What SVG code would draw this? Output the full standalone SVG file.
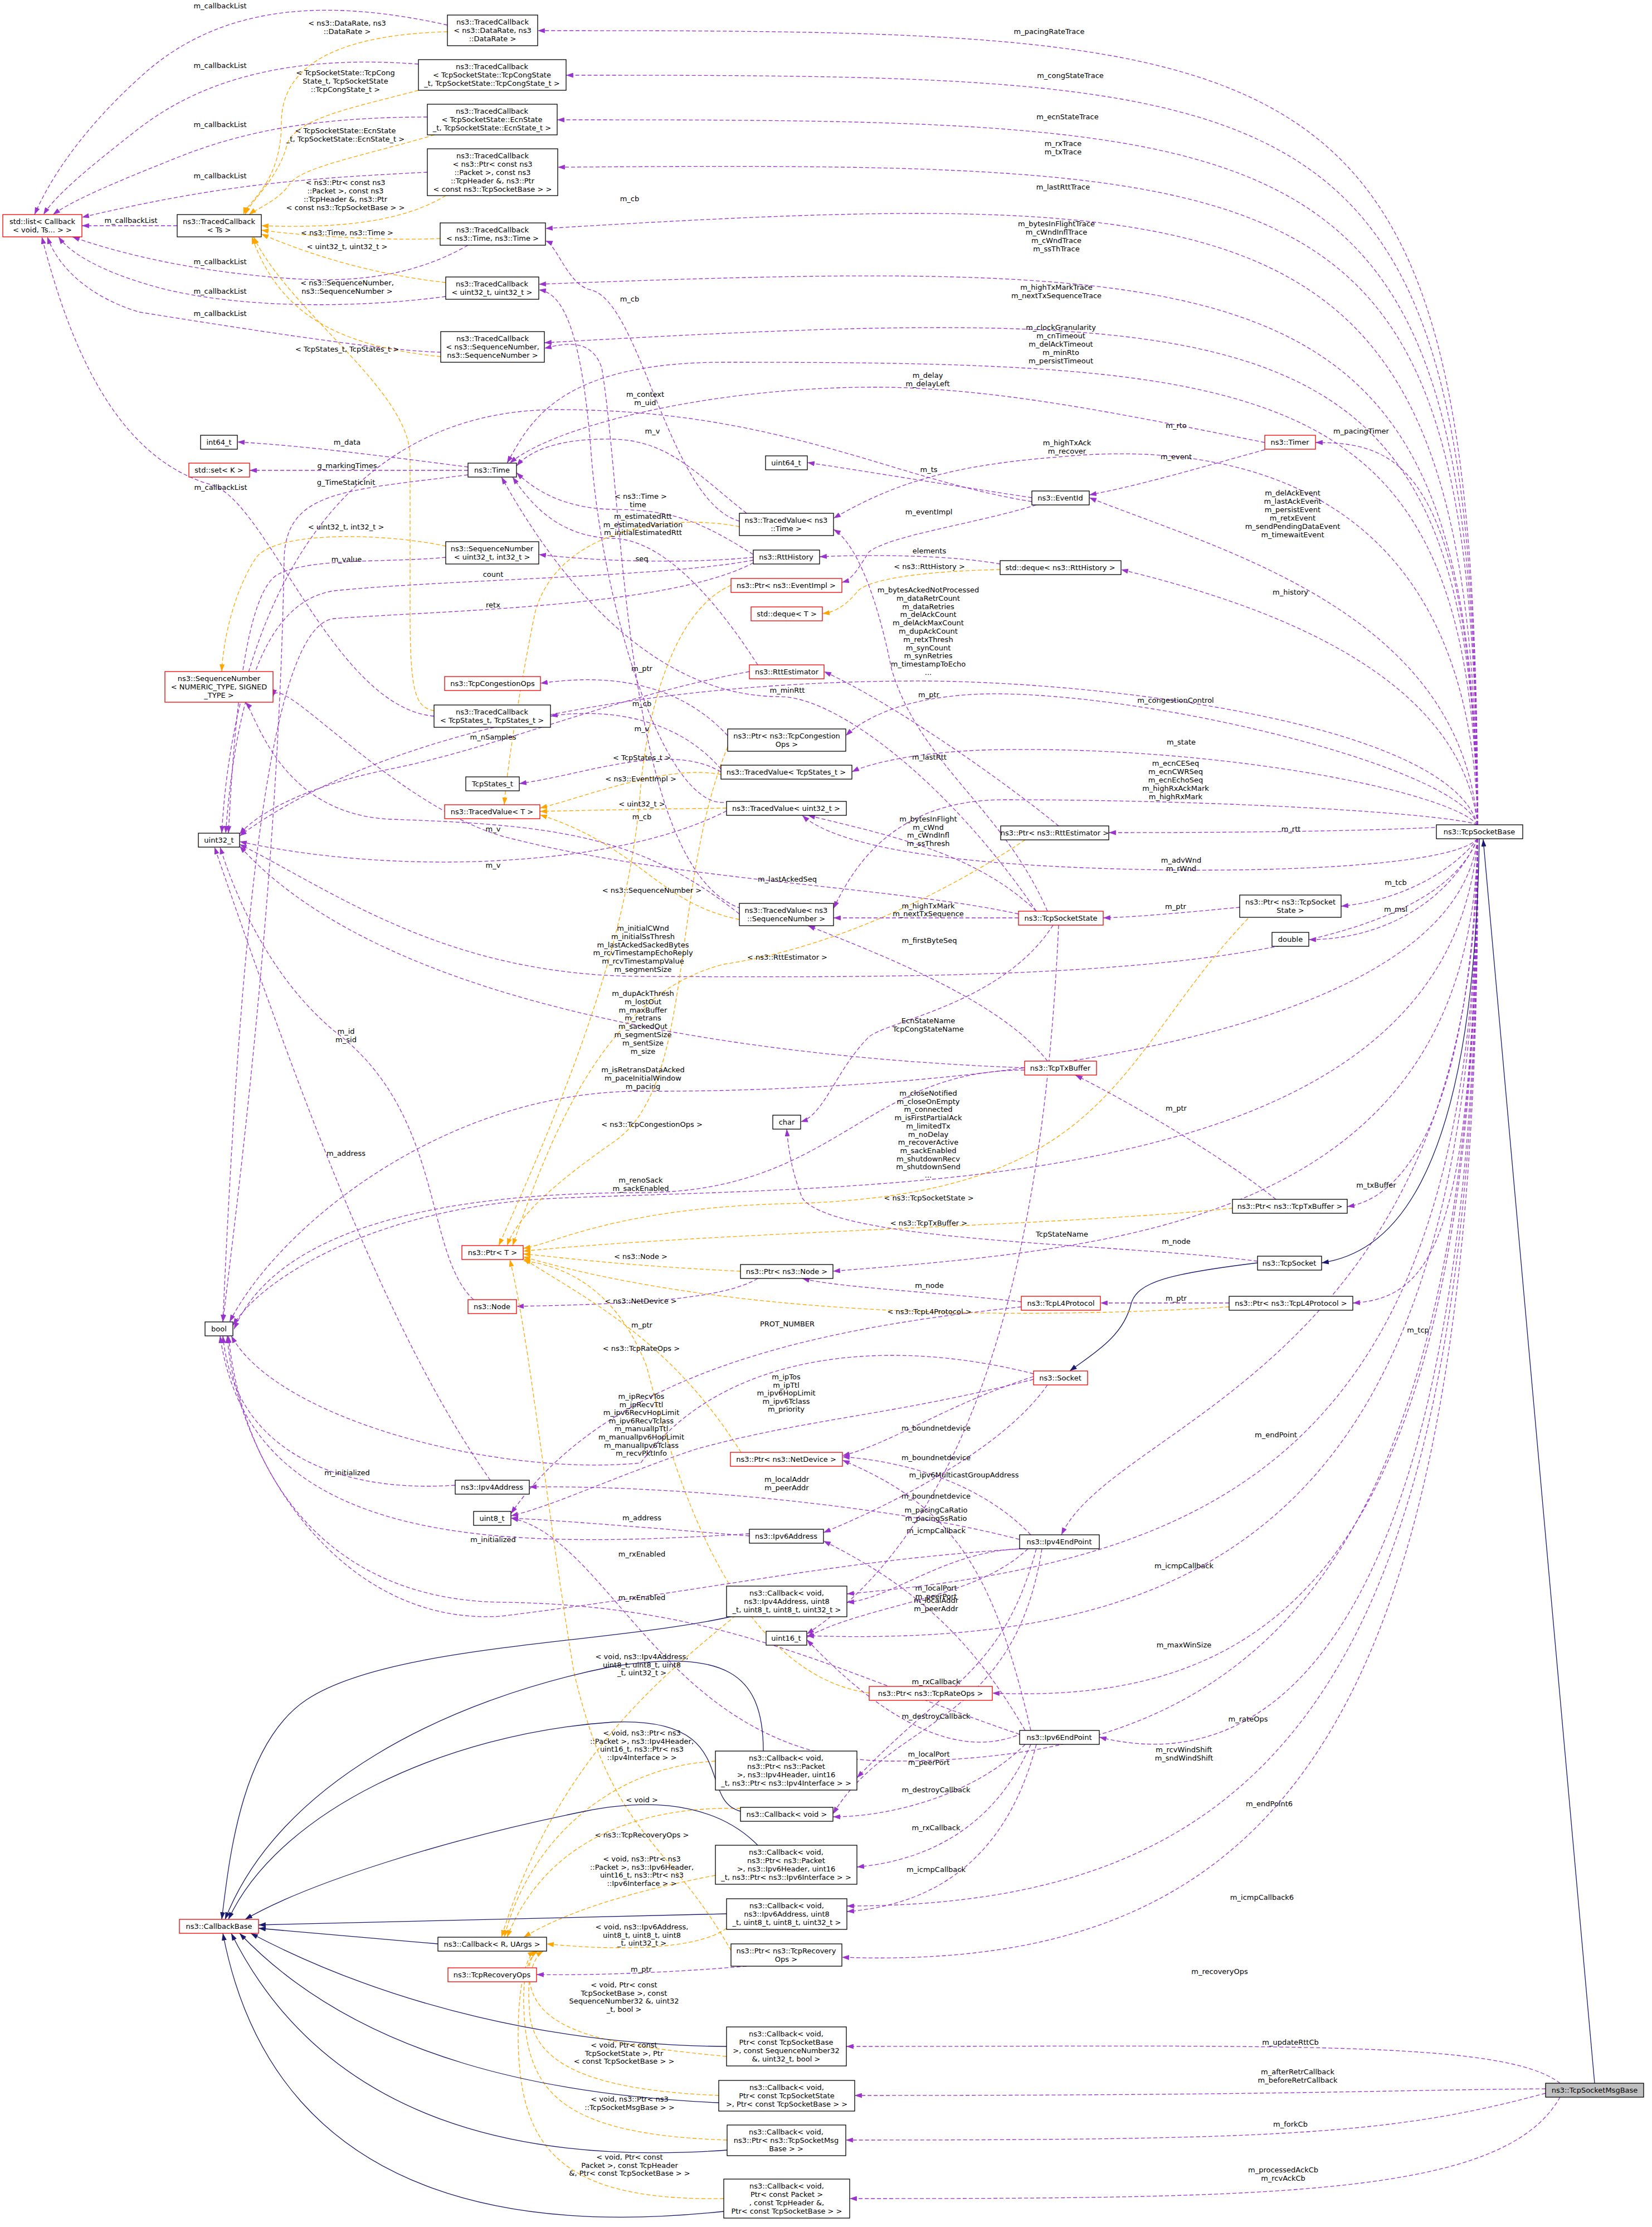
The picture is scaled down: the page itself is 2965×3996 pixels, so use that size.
<svg xmlns="http://www.w3.org/2000/svg" width="2965" height="3996" viewBox="0 0 2965 3996">
<style>
text{font-family:"DejaVu Sans","Liberation Sans",sans-serif;font-size:13px;fill:#000}
.nd text{text-anchor:middle}
.nd rect{fill:#fff;stroke:#000;stroke-width:1.3}
.nd.r rect{stroke:#e00}
.nd.g rect{fill:#bfbfbf}
.e path{fill:none;stroke-width:1.3}
.u{stroke:#9a32cd;stroke-dasharray:7,4}
.o{stroke:#ffa500;stroke-dasharray:7,4}
.i{stroke:#191970}
.l{text-anchor:middle}
</style>
<defs>
<marker id="pa" viewBox="0 0 10 7" refX="10" refY="3.5" markerWidth="13" markerHeight="9" markerUnits="userSpaceOnUse" orient="auto"><path d="M0,0 L10,3.5 L0,7z" fill="#9a32cd"/></marker>
<marker id="oa" viewBox="0 0 10 7" refX="10" refY="3.5" markerWidth="13" markerHeight="9" markerUnits="userSpaceOnUse" orient="auto"><path d="M0,0 L10,3.5 L0,7z" fill="#ffa500"/></marker>
<marker id="na" viewBox="0 0 10 7" refX="10" refY="3.5" markerWidth="13" markerHeight="9" markerUnits="userSpaceOnUse" orient="auto"><path d="M0,0 L10,3.5 L0,7z" fill="#191970"/></marker>
</defs>
<rect width="2965" height="3996" fill="#fff"/>
<g id="edges" class="e">
<path class="u" marker-end="url(#pa)" d="M2652,1480 C2652,60 2400,55 965,55"/>
<path class="u" marker-end="url(#pa)" d="M2652,1480 C2650,140 2400,135 1016,135"/>
<path class="u" marker-end="url(#pa)" d="M2652,1480 C2648,220 2400,215 1000,215"/>
<path class="u" marker-end="url(#pa)" d="M2652,1480 C2646,300 2400,290 1001,300"/>
<path class="u" marker-end="url(#pa)" d="M2652,1480 C2644,360 2300,330 979,410"/>
<path class="u" marker-end="url(#pa)" d="M2652,1480 C2642,480 2300,460 967,510"/>
<path class="u" marker-end="url(#pa)" d="M2652,1480 C2640,560 2300,540 977,615"/>
<path class="u" marker-end="url(#pa)" d="M2652,1480 C2640,680 2300,650 1300,650 C1000,650 950,760 910,831"/>
<path class="u" marker-end="url(#pa)" d="M2652,1480 C2640,820 2500,795 2361,794"/>
<path class="u" marker-end="url(#pa)" d="M2652,1480 C2640,860 2200,790 1900,820 C1700,835 1600,870 1496,930"/>
<path class="u" marker-end="url(#pa)" d="M2652,1480 C2620,1100 2200,990 1955,893"/>
<path class="u" marker-end="url(#pa)" d="M2652,1480 C2620,1200 2250,1080 2012,1022"/>
<path class="u" marker-end="url(#pa)" d="M2652,1480 C2620,1380 2100,1250 1800,1245 C1650,1243 1560,1280 1518,1320"/>
<path class="u" marker-end="url(#pa)" d="M2652,1480 C2600,1420 2200,1340 1800,1345 C1650,1347 1560,1370 1529,1385"/>
<path class="u" marker-end="url(#pa)" d="M2652,1480 C2600,1460 2200,1435 1800,1435 C1600,1436 1530,1560 1496,1630"/>
<path class="u" marker-end="url(#pa)" d="M2652,1480 C2500,1492 2200,1494 1990,1494"/>
<path class="u" marker-end="url(#pa)" d="M2652,1480 C2600,1300 2000,1225 1666,1222 C1200,1220 700,1300 430,1500"/>
<path class="u" marker-end="url(#pa)" d="M2652,1505 C2600,1560 2200,1570 1900,1555 C1600,1540 1480,1500 1440,1463"/>
<path class="u" marker-end="url(#pa)" d="M2652,1505 C2610,1560 2520,1615 2407,1626"/>
<path class="u" marker-end="url(#pa)" d="M2652,1505 C2600,1620 2480,1686 2349,1686"/>
<path class="u" marker-end="url(#pa)" d="M2652,1505 C2550,1760 1800,1755 1150,1752 C800,1750 600,1600 430,1515"/>
<path class="u" marker-end="url(#pa)" d="M2652,1505 C2600,1900 1600,1960 1154,1958 C800,1956 500,2200 412,2372"/>
<path class="u" marker-end="url(#pa)" d="M2652,1505 C2600,2150 1600,2125 1000,2150 C700,2163 480,2280 418,2378"/>
<path class="u" marker-end="url(#pa)" d="M2652,1505 C2640,2000 2520,2150 2418,2165"/>
<path class="u" marker-end="url(#pa)" d="M2652,1505 C2640,2200 2000,2240 1495,2281"/>
<path class="u" marker-end="url(#pa)" d="M2652,1505 C2645,2200 2580,2330 2428,2338"/>
<path class="u" marker-end="url(#pa)" d="M2652,1505 C2650,2450 2000,2550 1905,2754"/>
<path class="u" marker-end="url(#pa)" d="M2652,1505 C2652,2600 2200,2800 1520,2860"/>
<path class="u" marker-end="url(#pa)" d="M2652,1505 C2652,2700 2200,2960 1448,2935"/>
<path class="u" marker-end="url(#pa)" d="M2652,1505 C2655,2800 2300,3060 1781,3038"/>
<path class="u" marker-end="url(#pa)" d="M2652,1505 C2655,2900 2200,3160 1600,3160 C1200,3160 1100,2760 917,2724"/>
<path class="u" marker-end="url(#pa)" d="M2652,1505 C2658,2900 2300,3200 1973,3117"/>
<path class="u" marker-end="url(#pa)" d="M2652,1505 C2660,3000 2300,3420 1520,3420"/>
<path class="u" marker-end="url(#pa)" d="M2652,1505 C2662,3100 2300,3540 1511,3512"/>
<path class="i" marker-end="url(#na)" d="M2862,3738 L2662,1506"/>
<path class="i" marker-end="url(#na)" d="M2655,1505 C2645,2150 2480,2250 2372,2266"/>
<path class="i" marker-end="url(#na)" d="M2257,2266 C2100,2285 2040,2300 2030,2340 C2015,2400 1960,2430 1920,2460"/>
<path class="u" marker-end="url(#pa)" d="M2800,3738 C2700,3660 2300,3672 1519,3672"/>
<path class="u" marker-end="url(#pa)" d="M2774,3748 C2500,3750 2300,3760 1534,3760"/>
<path class="u" marker-end="url(#pa)" d="M2774,3756 C2500,3830 2300,3840 1518,3840"/>
<path class="u" marker-end="url(#pa)" d="M2800,3763 C2700,3940 2300,3945 1525,3945"/>
<path class="u" marker-end="url(#pa)" d="M803,45 C600,0 400,0 250,140 C150,230 90,320 62,385"/>
<path class="u" marker-end="url(#pa)" d="M751,115 C550,100 380,130 250,230 C160,300 100,350 78,385"/>
<path class="u" marker-end="url(#pa)" d="M767,210 C550,210 420,240 300,290 C200,330 130,360 95,385"/>
<path class="u" marker-end="url(#pa)" d="M767,309 C550,320 400,330 147,390"/>
<path class="u" marker-end="url(#pa)" d="M318,405 L147,405"/>
<path class="u" marker-end="url(#pa)" d="M840,440 C700,520 550,505 420,490 C300,475 200,450 130,425"/>
<path class="u" marker-end="url(#pa)" d="M800,532 C650,552 450,555 300,520 C200,495 130,460 105,425"/>
<path class="u" marker-end="url(#pa)" d="M791,632 C700,630 500,600 250,560 C150,530 100,470 85,425"/>
<path class="u" marker-end="url(#pa)" d="M779,1285 C600,1270 480,900 380,870 C200,820 120,600 75,425"/>
<path class="o" marker-end="url(#oa)" d="M803,57 C620,62 505,110 505,220 C505,330 445,360 437,385"/>
<path class="o" marker-end="url(#oa)" d="M751,162 C650,190 530,210 515,260 C500,320 450,360 440,385"/>
<path class="o" marker-end="url(#oa)" d="M780,242 C650,280 540,300 520,330 C500,360 460,375 447,385"/>
<path class="o" marker-end="url(#oa)" d="M800,351 C720,400 600,410 469,405"/>
<path class="o" marker-end="url(#oa)" d="M790,428 C700,432 560,425 469,413"/>
<path class="o" marker-end="url(#oa)" d="M800,507 C650,490 540,450 469,420"/>
<path class="o" marker-end="url(#oa)" d="M791,640 C600,620 500,560 452,425"/>
<path class="o" marker-end="url(#oa)" d="M779,1275 C745,1270 736,1240 736,1100 L736,820 C736,700 520,560 455,425"/>
<path class="u" marker-end="url(#pa)" d="M840,838 C700,820 550,800 426,793"/>
<path class="u" marker-end="url(#pa)" d="M840,844 L448,844"/>
<path class="u" marker-end="url(#pa)" d="M840,852 C620,880 515,880 510,1000 C500,1600 420,2200 400,2372"/>
<path class="u" marker-end="url(#pa)" d="M2270,794 C2000,740 1800,700 1600,695 C1300,690 1000,760 915,831"/>
<path class="u" marker-end="url(#pa)" d="M1360,1193 C1300,1100 1200,968 1100,966 C1000,964 950,900 920,856"/>
<path class="u" marker-end="url(#pa)" d="M1340,921 C1250,850 1200,790 1100,788 C1000,786 950,810 927,836"/>
<path class="u" marker-end="url(#pa)" d="M1352,995 C1250,930 1200,915 1100,914 C1000,912 950,870 927,848"/>
<path class="u" marker-end="url(#pa)" d="M1860,1635 C1700,1400 1500,1250 1400,1250 C1150,1250 980,1000 900,856"/>
<path class="u" marker-end="url(#pa)" d="M2270,807 C2150,840 2050,870 1955,888"/>
<path class="u" marker-end="url(#pa)" d="M1852,893 C1700,870 1550,845 1449,830"/>
<path class="u" marker-end="url(#pa)" d="M1860,906 C1750,940 1600,960 1560,990 C1540,1020 1530,1040 1511,1045"/>
<path class="u" marker-end="url(#pa)" d="M1852,900 C1600,860 1400,735 1000,735 C600,735 420,1100 398,1495"/>
<path class="u" marker-end="url(#pa)" d="M1327,935 C1200,900 1150,540 1060,520 C1020,512 1000,440 979,432"/>
<path class="o" marker-end="url(#oa)" d="M1327,945 C1200,920 1000,950 960,1100 C930,1250 910,1380 905,1444"/>
<path class="u" marker-end="url(#pa)" d="M1352,1000 C1250,1010 1100,1010 967,995"/>
<path class="u" marker-end="url(#pa)" d="M1352,1005 C1200,1035 800,1040 600,1060 C460,1080 420,1300 405,1495"/>
<path class="u" marker-end="url(#pa)" d="M1352,1010 C1200,1090 800,1095 600,1110 C480,1120 430,1700 400,2372"/>
<path class="u" marker-end="url(#pa)" d="M800,1000 C700,1010 560,1000 500,1030 C440,1060 420,1300 410,1495"/>
<path class="o" marker-end="url(#oa)" d="M800,980 C700,958 500,950 460,1000 C420,1060 400,1150 398,1205"/>
<path class="u" marker-end="url(#pa)" d="M1795,1012 C1700,995 1550,995 1471,999"/>
<path class="o" marker-end="url(#oa)" d="M1795,1022 C1650,1025 1560,1040 1540,1060 C1520,1085 1500,1098 1476,1101"/>
<path class="o" marker-end="url(#oa)" d="M1312,1050 C1200,1100 1160,1300 1150,1410 C1130,1700 1000,2000 895,2235"/>
<path class="u" marker-end="url(#pa)" d="M1345,1205 C1100,1250 900,1340 700,1380 C550,1410 460,1460 430,1497"/>
<path class="u" marker-end="url(#pa)" d="M1306,1320 C1200,1205 1050,1215 970,1226"/>
<path class="o" marker-end="url(#oa)" d="M1306,1340 C1200,1600 1250,1950 1100,2050 C1000,2120 930,2180 910,2235"/>
<path class="u" marker-end="url(#pa)" d="M1294,1380 C1200,1270 1050,1275 988,1285"/>
<path class="u" marker-end="url(#pa)" d="M1294,1385 C1200,1330 1050,1390 932,1406"/>
<path class="o" marker-end="url(#oa)" d="M1294,1390 C1200,1370 1050,1430 969,1450"/>
<path class="o" marker-end="url(#oa)" d="M1304,1450 C1150,1452 1050,1454 969,1456"/>
<path class="u" marker-end="url(#pa)" d="M1310,1438 C1200,1470 1080,1100 1060,800 C1040,560 1000,525 967,520"/>
<path class="u" marker-end="url(#pa)" d="M1304,1455 C1100,1560 700,1570 430,1510"/>
<path class="u" marker-end="url(#pa)" d="M1330,1630 C1120,1560 1120,900 1080,660 C1060,600 1000,620 977,625"/>
<path class="u" marker-end="url(#pa)" d="M1327,1640 C1150,1500 1000,1480 700,1470 C500,1460 460,1280 440,1260"/>
<path class="o" marker-end="url(#oa)" d="M1327,1650 C1180,1620 1150,1520 969,1462"/>
<path class="u" marker-end="url(#pa)" d="M1900,1482 C1800,1400 1600,1260 1479,1205"/>
<path class="o" marker-end="url(#oa)" d="M1840,1507 C1700,1600 1500,1700 1300,1730 C1100,1780 1000,2000 920,2235"/>
<path class="u" marker-end="url(#pa)" d="M1880,1635 C1800,1450 1650,1370 1600,1200 C1570,1050 1530,970 1496,950"/>
<path class="u" marker-end="url(#pa)" d="M1828,1647 L1496,1647"/>
<path class="u" marker-end="url(#pa)" d="M1828,1640 C1600,1590 1200,1580 900,1500 C700,1440 500,1200 490,1250"/>
<path class="u" marker-end="url(#pa)" d="M1860,1635 C1750,1530 1600,1500 1450,1463"/>
<path class="u" marker-end="url(#pa)" d="M1890,1660 C1800,1800 1600,1830 1560,1860 C1500,1920 1480,2000 1437,2013"/>
<path class="u" marker-end="url(#pa)" d="M1900,1660 C1880,2100 1800,2700 1448,2932"/>
<path class="u" marker-end="url(#pa)" d="M2225,1628 C2150,1635 2050,1645 1980,1647"/>
<path class="o" marker-end="url(#oa)" d="M2240,1648 C2000,1900 2000,2150 1400,2160 C1100,2170 1000,2230 939,2240"/>
<path class="u" marker-end="url(#pa)" d="M1839,1916 C1400,1900 700,1820 430,1518"/>
<path class="u" marker-end="url(#pa)" d="M1880,1904 C1800,1800 1600,1720 1450,1661"/>
<path class="u" marker-end="url(#pa)" d="M1839,1920 C1550,1920 1500,2140 1150,2140 C800,2140 500,2200 420,2385"/>
<path class="u" marker-end="url(#pa)" d="M2290,2152 C2200,2080 2050,1990 1930,1929"/>
<path class="o" marker-end="url(#oa)" d="M2212,2168 C1900,2200 1300,2210 939,2245"/>
<path class="u" marker-end="url(#pa)" d="M2257,2263 C2000,2230 1500,2230 1440,2150 C1420,2100 1415,2060 1412,2026"/>
<path class="u" marker-end="url(#pa)" d="M1360,2294 C1300,2330 1150,2340 927,2344"/>
<path class="o" marker-end="url(#oa)" d="M1329,2281 C1100,2270 1000,2255 939,2250"/>
<path class="u" marker-end="url(#pa)" d="M1833,2336 C1700,2320 1500,2310 1440,2294"/>
<path class="u" marker-end="url(#pa)" d="M1833,2345 C1500,2380 1100,2450 917,2716"/>
<path class="u" marker-end="url(#pa)" d="M2206,2338 L1975,2338"/>
<path class="o" marker-end="url(#oa)" d="M2206,2345 C1800,2370 1300,2360 939,2255"/>
<path class="u" marker-end="url(#pa)" d="M850,2332 C760,2250 800,2000 600,1850 C480,1750 420,1600 395,1520"/>
<path class="u" marker-end="url(#pa)" d="M880,2656 C700,2400 550,2000 385,1520"/>
<path class="u" marker-end="url(#pa)" d="M817,2665 C600,2680 420,2600 400,2397"/>
<path class="u" marker-end="url(#pa)" d="M1345,2752 C900,2780 450,2780 395,2397"/>
<path class="u" marker-end="url(#pa)" d="M1345,2756 C1150,2740 1000,2728 917,2724"/>
<path class="o" marker-end="url(#oa)" d="M1330,2606 C1200,2400 1050,2330 939,2258"/>
<path class="u" marker-end="url(#pa)" d="M1855,2470 C1700,2520 1600,2590 1512,2612"/>
<path class="u" marker-end="url(#pa)" d="M1855,2475 C1600,2540 1450,2545 1250,2600 C1100,2650 1000,2700 917,2720"/>
<path class="u" marker-end="url(#pa)" d="M1855,2465 C1600,2400 1300,2420 1150,2625 C900,2650 500,2550 415,2397"/>
<path class="u" marker-end="url(#pa)" d="M1880,2485 C1800,2600 1600,2700 1478,2750"/>
<path class="o" marker-end="url(#oa)" d="M1560,3038 C1300,3000 1200,2600 1160,2450 C1100,2300 1000,2270 939,2262"/>
<path class="u" marker-end="url(#pa)" d="M1840,2765 C1600,2700 1200,2665 950,2668"/>
<path class="u" marker-end="url(#pa)" d="M1850,2754 C1750,2650 1600,2620 1512,2614"/>
<path class="u" marker-end="url(#pa)" d="M1840,2779 C1700,2780 1600,2870 1520,2875"/>
<path class="u" marker-end="url(#pa)" d="M1845,2779 C1750,2870 1550,2880 1448,2938"/>
<path class="u" marker-end="url(#pa)" d="M1835,2779 C1500,2800 1300,2850 900,2900 C600,2920 420,2600 408,2397"/>
<path class="u" marker-end="url(#pa)" d="M1860,2779 C1800,3000 1700,3020 1538,3190"/>
<path class="u" marker-end="url(#pa)" d="M1870,2779 C1820,3100 1600,3080 1495,3255"/>
<path class="u" marker-end="url(#pa)" d="M1840,3105 C1750,2950 1650,2850 1478,2765"/>
<path class="u" marker-end="url(#pa)" d="M1850,3105 C1780,2800 1700,2700 1512,2620"/>
<path class="u" marker-end="url(#pa)" d="M1835,3110 C1700,3170 1550,3050 1448,2942"/>
<path class="u" marker-end="url(#pa)" d="M1830,3112 C1500,3000 1300,2880 900,2875 C550,2870 430,2600 410,2397"/>
<path class="u" marker-end="url(#pa)" d="M1840,3130 C1750,3220 1600,3260 1495,3260"/>
<path class="u" marker-end="url(#pa)" d="M1850,3130 C1780,3290 1650,3340 1538,3350"/>
<path class="u" marker-end="url(#pa)" d="M1860,3130 C1800,3360 1650,3420 1520,3430"/>
<path class="u" marker-end="url(#pa)" d="M1340,3528 C1200,3540 1050,3545 963,3543"/>
<path class="o" marker-end="url(#oa)" d="M1312,3500 C1200,3300 1100,3300 1030,3000 C980,2700 950,2400 915,2260"/>
<path class="o" marker-end="url(#oa)" d="M1320,2899 C1200,3000 1000,3150 900,3476"/>
<path class="o" marker-end="url(#oa)" d="M1284,3160 C1100,3170 950,3300 905,3476"/>
<path class="o" marker-end="url(#oa)" d="M1329,3245 C1150,3240 980,3300 910,3476"/>
<path class="o" marker-end="url(#oa)" d="M1284,3365 C1100,3400 1000,3440 940,3476"/>
<path class="o" marker-end="url(#oa)" d="M1304,3460 C1250,3500 1100,3500 981,3488"/>
<path class="o" marker-end="url(#oa)" d="M1304,3690 C1100,3670 960,3650 950,3550 C945,3520 960,3500 970,3501"/>
<path class="o" marker-end="url(#oa)" d="M1290,3760 C1050,3750 950,3700 950,3600 C945,3540 960,3510 975,3501"/>
<path class="o" marker-end="url(#oa)" d="M1305,3840 C1000,3830 945,3750 940,3600 C938,3540 950,3510 965,3501"/>
<path class="o" marker-end="url(#oa)" d="M1299,3945 C1000,3950 930,3850 930,3650 C930,3560 945,3510 960,3501"/>
<path class="i" marker-end="url(#na)" d="M1320,2899 C1100,2950 700,2950 550,3050 C430,3130 410,3350 398,3444"/>
<path class="i" marker-end="url(#na)" d="M1370,3142 C1370,3000 1300,2960 1100,2990 C800,3050 500,3200 404,3444"/>
<path class="i" marker-end="url(#na)" d="M1329,3250 C1250,3230 1330,3080 1100,3090 C800,3110 500,3250 410,3444"/>
<path class="i" marker-end="url(#na)" d="M1360,3311 C1300,3250 1200,3220 1050,3250 C800,3300 550,3380 440,3444"/>
<path class="i" marker-end="url(#na)" d="M1304,3434 L464,3454"/>
<path class="i" marker-end="url(#na)" d="M786,3488 L464,3460"/>
<path class="i" marker-end="url(#na)" d="M1304,3672 C1000,3670 700,3600 450,3469"/>
<path class="i" marker-end="url(#na)" d="M1290,3773 C1000,3760 650,3700 430,3469"/>
<path class="i" marker-end="url(#na)" d="M1305,3858 C1000,3880 600,3840 415,3469"/>
<path class="i" marker-end="url(#na)" d="M1299,3968 C1000,4000 500,3990 400,3469"/>
</g>
<g id="labels">
<text class="l" x="1883" y="61">m_pacingRateTrace</text>
<text class="l" x="1921" y="140">m_congStateTrace</text>
<text class="l" x="1916" y="214">m_ecnStateTrace</text>
<text class="l" x="1908" y="262">m_rxTrace<tspan x="1908" dy="15">m_txTrace</tspan></text>
<text class="l" x="1908" y="340">m_lastRttTrace</text>
<text class="l" x="1896" y="406">m_bytesInFlightTrace<tspan x="1896" dy="15">m_cWndInflTrace</tspan><tspan x="1896" dy="15">m_cWndTrace</tspan><tspan x="1896" dy="15">m_ssThTrace</tspan></text>
<text class="l" x="1896" y="520">m_highTxMarkTrace<tspan x="1896" dy="15">m_nextTxSequenceTrace</tspan></text>
<text class="l" x="1904" y="592">m_clockGranularity<tspan x="1904" dy="15">m_cnTimeout</tspan><tspan x="1904" dy="15">m_delAckTimeout</tspan><tspan x="1904" dy="15">m_minRto</tspan><tspan x="1904" dy="15">m_persistTimeout</tspan></text>
<text class="l" x="1665" y="678">m_delay<tspan x="1665" dy="15">m_delayLeft</tspan></text>
<text class="l" x="2111" y="768">m_rto</text>
<text class="l" x="2443" y="778">m_pacingTimer</text>
<text class="l" x="1915" y="799">m_highTxAck<tspan x="1915" dy="15">m_recover</tspan></text>
<text class="l" x="2111" y="824">m_event</text>
<text class="l" x="1667" y="847">m_ts</text>
<text class="l" x="2320" y="889">m_delAckEvent<tspan x="2320" dy="15">m_lastAckEvent</tspan><tspan x="2320" dy="15">m_persistEvent</tspan><tspan x="2320" dy="15">m_retxEvent</tspan><tspan x="2320" dy="15">m_sendPendingDataEvent</tspan><tspan x="2320" dy="15">m_timewaitEvent</tspan></text>
<text class="l" x="1667" y="923">m_eventImpl</text>
<text class="l" x="1668" y="993">elements</text>
<text class="l" x="1668" y="1021">&lt; ns3::RttHistory &gt;</text>
<text class="l" x="2316" y="1067">m_history</text>
<text class="l" x="1666" y="1063">m_bytesAckedNotProcessed<tspan x="1666" dy="14.8">m_dataRetrCount</tspan><tspan x="1666" dy="14.8">m_dataRetries</tspan><tspan x="1666" dy="14.8">m_delAckCount</tspan><tspan x="1666" dy="14.8">m_delAckMaxCount</tspan><tspan x="1666" dy="14.8">m_dupAckCount</tspan><tspan x="1666" dy="14.8">m_retxThresh</tspan><tspan x="1666" dy="14.8">m_synCount</tspan><tspan x="1666" dy="14.8">m_synRetries</tspan><tspan x="1666" dy="14.8">m_timestampToEcho</tspan><tspan x="1666" dy="14.8">...</tspan></text>
<text class="l" x="1413" y="1243">m_minRtt</text>
<text class="l" x="1667" y="1251">m_ptr</text>
<text class="l" x="2110" y="1261">m_congestionControl</text>
<text class="l" x="2120" y="1336">m_state</text>
<text class="l" x="1668" y="1363">m_lastRtt</text>
<text class="l" x="2110" y="1374">m_ecnCESeq<tspan x="2110" dy="15">m_ecnCWRSeq</tspan><tspan x="2110" dy="15">m_ecnEchoSeq</tspan><tspan x="2110" dy="15">m_highRxAckMark</tspan><tspan x="2110" dy="15">m_highRxMark</tspan></text>
<text class="l" x="1666" y="1474">m_bytesInFlight<tspan x="1666" dy="14.7">m_cWnd</tspan><tspan x="1666" dy="14.7">m_cWndInfl</tspan><tspan x="1666" dy="14.7">m_ssThresh</tspan></text>
<text class="l" x="2317" y="1492">m_rtt</text>
<text class="l" x="2505" y="1588">m_tcb</text>
<text class="l" x="2505" y="1636">m_msl</text>
<text class="l" x="2120" y="1548">m_advWnd<tspan x="2120" dy="15">m_rWnd</tspan></text>
<text class="l" x="1413" y="1582">m_lastAckedSeq</text>
<text class="l" x="2110" y="1631">m_ptr</text>
<text class="l" x="1666" y="1630">m_highTxMark<tspan x="1666" dy="14">m_nextTxSequence</tspan></text>
<text class="l" x="1668" y="1692">m_firstByteSeq</text>
<text class="l" x="1413" y="1722">&lt; ns3::RttEstimator &gt;</text>
<text class="l" x="1666" y="1836">EcnStateName<tspan x="1666" dy="14.7">TcpCongStateName</tspan></text>
<text class="l" x="1666" y="1966">m_closeNotified<tspan x="1666" dy="14.7">m_closeOnEmpty</tspan><tspan x="1666" dy="14.7">m_connected</tspan><tspan x="1666" dy="14.7">m_isFirstPartialAck</tspan><tspan x="1666" dy="14.7">m_limitedTx</tspan><tspan x="1666" dy="14.7">m_noDelay</tspan><tspan x="1666" dy="14.7">m_recoverActive</tspan><tspan x="1666" dy="14.7">m_sackEnabled</tspan><tspan x="1666" dy="14.7">m_shutdownRecv</tspan><tspan x="1666" dy="14.7">m_shutdownSend</tspan><tspan x="1666" dy="14.7">...</tspan></text>
<text class="l" x="2111" y="1993">m_ptr</text>
<text class="l" x="2470" y="2131">m_txBuffer</text>
<text class="l" x="1667" y="2154">&lt; ns3::TcpSocketState &gt;</text>
<text class="l" x="1667" y="2199">&lt; ns3::TcpTxBuffer &gt;</text>
<text class="l" x="1906" y="2219">TcpStateName</text>
<text class="l" x="2111" y="2232">m_node</text>
<text class="l" x="1668" y="2311">m_node</text>
<text class="l" x="2111" y="2334">m_ptr</text>
<text class="l" x="1668" y="2358">&lt; ns3::TcpL4Protocol &gt;</text>
<text class="l" x="1413" y="2380">PROT_NUMBER</text>
<text class="l" x="2545" y="2391">m_tcp</text>
<text class="l" x="1411" y="2475">m_ipTos<tspan x="1411" dy="14.6">m_ipTtl</tspan><tspan x="1411" dy="14.6">m_ipv6HopLimit</tspan><tspan x="1411" dy="14.6">m_ipv6Tclass</tspan><tspan x="1411" dy="14.6">m_priority</tspan></text>
<text class="l" x="1151" y="2510">m_ipRecvTos<tspan x="1151" dy="14.6">m_ipRecvTtl</tspan><tspan x="1151" dy="14.6">m_ipv6RecvHopLimit</tspan><tspan x="1151" dy="14.6">m_ipv6RecvTclass</tspan><tspan x="1151" dy="14.6">m_manualIpTtl</tspan><tspan x="1151" dy="14.6">m_manualIpv6HopLimit</tspan><tspan x="1151" dy="14.6">m_manualIpv6Tclass</tspan><tspan x="1151" dy="14.6">m_recvPktInfo</tspan></text>
<text class="l" x="1680" y="2567">m_boundnetdevice</text>
<text class="l" x="2290" y="2579">m_endPoint</text>
<text class="l" x="1680" y="2620">m_boundnetdevice</text>
<text class="l" x="1730" y="2651">m_ipv6MulticastGroupAddress</text>
<text class="l" x="1412" y="2659">m_localAddr<tspan x="1412" dy="15">m_peerAddr</tspan></text>
<text class="l" x="1680" y="2689">m_boundnetdevice</text>
<text class="l" x="1680" y="2714">m_pacingCaRatio<tspan x="1680" dy="15">m_pacingSsRatio</tspan></text>
<text class="l" x="1152" y="2728">m_address</text>
<text class="l" x="1680" y="2751">m_icmpCallback</text>
<text class="l" x="885" y="2767">m_initialized</text>
<text class="l" x="1152" y="2793">m_rxEnabled</text>
<text class="l" x="2125" y="2814">m_icmpCallback</text>
<text class="l" x="1680" y="2854">m_localPort<tspan x="1680" dy="15">m_peerPort</tspan></text>
<text class="l" x="1152" y="2871">m_rxEnabled</text>
<text class="l" x="1680" y="2876">m_localAddr<tspan x="1680" dy="15">m_peerAddr</tspan></text>
<text class="l" x="2125" y="2956">m_maxWinSize</text>
<text class="l" x="1152" y="2977">&lt; void, ns3::Ipv4Address,<tspan x="1152" dy="14.5">uint8_t, uint8_t, uint8</tspan><tspan x="1152" dy="14.5">_t, uint32_t &gt;</tspan></text>
<text class="l" x="1680" y="3022">m_rxCallback</text>
<text class="l" x="1680" y="3084">m_destroyCallback</text>
<text class="l" x="2240" y="3089">m_rateOps</text>
<text class="l" x="1152" y="3114">&lt; void, ns3::Ptr&lt; ns3<tspan x="1152" dy="14.5">::Packet &gt;, ns3::Ipv4Header,</tspan><tspan x="1152" dy="14.5">uint16_t, ns3::Ptr&lt; ns3</tspan><tspan x="1152" dy="14.5">::Ipv4Interface &gt; &gt;</tspan></text>
<text class="l" x="2125" y="3144">m_rcvWindShift<tspan x="2125" dy="15">m_sndWindShift</tspan></text>
<text class="l" x="1667" y="3152">m_localPort<tspan x="1667" dy="15">m_peerPort</tspan></text>
<text class="l" x="1680" y="3216">m_destroyCallback</text>
<text class="l" x="1152" y="3234">&lt; void &gt;</text>
<text class="l" x="2278" y="3241">m_endPoint6</text>
<text class="l" x="1680" y="3284">m_rxCallback</text>
<text class="l" x="1152" y="3297">&lt; ns3::TcpRecoveryOps &gt;</text>
<text class="l" x="1152" y="3340">&lt; void, ns3::Ptr&lt; ns3<tspan x="1152" dy="14.5">::Packet &gt;, ns3::Ipv6Header,</tspan><tspan x="1152" dy="14.5">uint16_t, ns3::Ptr&lt; ns3</tspan><tspan x="1152" dy="14.5">::Ipv6Interface &gt; &gt;</tspan></text>
<text class="l" x="1680" y="3359">m_icmpCallback</text>
<text class="l" x="2265" y="3409">m_icmpCallback6</text>
<text class="l" x="1152" y="3462">&lt; void, ns3::Ipv6Address,<tspan x="1152" dy="14.5">uint8_t, uint8_t, uint8</tspan><tspan x="1152" dy="14.5">_t, uint32_t &gt;</tspan></text>
<text class="l" x="1151" y="3538">m_ptr</text>
<text class="l" x="2189" y="3542">m_recoveryOps</text>
<text class="l" x="1120" y="3566">&lt; void, Ptr&lt; const<tspan x="1120" dy="14.5">TcpSocketBase &gt;, const</tspan><tspan x="1120" dy="14.5">SequenceNumber32 &amp;, uint32</tspan><tspan x="1120" dy="14.5">_t, bool &gt;</tspan></text>
<text class="l" x="2316" y="3669">m_updateRttCb</text>
<text class="l" x="1120" y="3674">&lt; void, Ptr&lt; const<tspan x="1120" dy="14.5">TcpSocketState &gt;, Ptr</tspan><tspan x="1120" dy="14.5">&lt; const TcpSocketBase &gt; &gt;</tspan></text>
<text class="l" x="2329" y="3722">m_afterRetrCallback<tspan x="2329" dy="15">m_beforeRetrCallback</tspan></text>
<text class="l" x="1130" y="3771">&lt; void, ns3::Ptr&lt; ns3<tspan x="1130" dy="14.5">::TcpSocketMsgBase &gt; &gt;</tspan></text>
<text class="l" x="2316" y="3816">m_forkCb</text>
<text class="l" x="1130" y="3875">&lt; void, Ptr&lt; const<tspan x="1130" dy="14.5">Packet &gt;, const TcpHeader</tspan><tspan x="1130" dy="14.5">&amp;, Ptr&lt; const TcpSocketBase &gt; &gt;</tspan></text>
<text class="l" x="2303" y="3898">m_processedAckCb<tspan x="2303" dy="15">m_rcvAckCb</tspan></text>
<text class="l" x="395" y="15">m_callbackList</text>
<text class="l" x="395" y="122">m_callbackList</text>
<text class="l" x="395" y="228">m_callbackList</text>
<text class="l" x="395" y="320">m_callbackList</text>
<text class="l" x="235" y="400">m_callbackList</text>
<text class="l" x="395" y="474">m_callbackList</text>
<text class="l" x="395" y="527">m_callbackList</text>
<text class="l" x="395" y="567">m_callbackList</text>
<text class="l" x="396" y="879">m_callbackList</text>
<text class="l" x="623" y="46">&lt; ns3::DataRate, ns3<tspan x="623" dy="15">::DataRate &gt;</tspan></text>
<text class="l" x="620" y="135">&lt; TcpSocketState::TcpCong<tspan x="620" dy="15">State_t, TcpSocketState</tspan><tspan x="620" dy="15">::TcpCongState_t &gt;</tspan></text>
<text class="l" x="620" y="239">&lt; TcpSocketState::EcnState<tspan x="620" dy="15">_t, TcpSocketState::EcnState_t &gt;</tspan></text>
<text class="l" x="620" y="332">&lt; ns3::Ptr&lt; const ns3<tspan x="620" dy="15">::Packet &gt;, const ns3</tspan><tspan x="620" dy="15">::TcpHeader &amp;, ns3::Ptr</tspan><tspan x="620" dy="15">&lt; const ns3::TcpSocketBase &gt; &gt;</tspan></text>
<text class="l" x="623" y="422">&lt; ns3::Time, ns3::Time &gt;</text>
<text class="l" x="623" y="447">&lt; uint32_t, uint32_t &gt;</text>
<text class="l" x="623" y="512">&lt; ns3::SequenceNumber,<tspan x="623" dy="15">ns3::SequenceNumber &gt;</tspan></text>
<text class="l" x="623" y="631">&lt; TcpStates_t, TcpStates_t &gt;</text>
<text class="l" x="1130" y="361">m_cb</text>
<text class="l" x="1130" y="541">m_cb</text>
<text class="l" x="1158" y="712">m_context<tspan x="1158" dy="15">m_uid</tspan></text>
<text class="l" x="1171" y="778">m_v</text>
<text class="l" x="623" y="798">m_data</text>
<text class="l" x="623" y="840">g_markingTimes</text>
<text class="l" x="621" y="870">g_TimeStaticInit</text>
<text class="l" x="1150" y="895">&lt; ns3::Time &gt;</text>
<text class="l" x="1145" y="910">time</text>
<text class="l" x="1154" y="931">m_estimatedRtt<tspan x="1154" dy="14.7">m_estimatedVariation</tspan><tspan x="1154" dy="14.7">m_initialEstimatedRtt</tspan></text>
<text class="l" x="621" y="950">&lt; uint32_t, int32_t &gt;</text>
<text class="l" x="1152" y="1007">seq</text>
<text class="l" x="622" y="1008">m_value</text>
<text class="l" x="885" y="1035">count</text>
<text class="l" x="885" y="1090">retx</text>
<text class="l" x="1152" y="1204">m_ptr</text>
<text class="l" x="1152" y="1267">m_cb</text>
<text class="l" x="1152" y="1312">m_v</text>
<text class="l" x="885" y="1327">m_nSamples</text>
<text class="l" x="1152" y="1364">&lt; TcpStates_t &gt;</text>
<text class="l" x="1150" y="1402">&lt; ns3::EventImpl &gt;</text>
<text class="l" x="1152" y="1447">&lt; uint32_t &gt;</text>
<text class="l" x="1152" y="1470">m_cb</text>
<text class="l" x="885" y="1492">m_v</text>
<text class="l" x="885" y="1557">m_v</text>
<text class="l" x="1170" y="1602">&lt; ns3::SequenceNumber &gt;</text>
<text class="l" x="1154" y="1670">m_initialCWnd<tspan x="1154" dy="14.8">m_initialSsThresh</tspan><tspan x="1154" dy="14.8">m_lastAckedSackedBytes</tspan><tspan x="1154" dy="14.8">m_rcvTimestampEchoReply</tspan><tspan x="1154" dy="14.8">m_rcvTimestampValue</tspan><tspan x="1154" dy="14.8">m_segmentSize</tspan></text>
<text class="l" x="1154" y="1787">m_dupAckThresh<tspan x="1154" dy="14.8">m_lostOut</tspan><tspan x="1154" dy="14.8">m_maxBuffer</tspan><tspan x="1154" dy="14.8">m_retrans</tspan><tspan x="1154" dy="14.8">m_sackedOut</tspan><tspan x="1154" dy="14.8">m_segmentSize</tspan><tspan x="1154" dy="14.8">m_sentSize</tspan><tspan x="1154" dy="14.8">m_size</tspan></text>
<text class="l" x="621" y="1855">m_id<tspan x="621" dy="15">m_sid</tspan></text>
<text class="l" x="1154" y="1924">m_isRetransDataAcked<tspan x="1154" dy="14.8">m_paceInitialWindow</tspan><tspan x="1154" dy="14.8">m_pacing</tspan></text>
<text class="l" x="1170" y="2022">&lt; ns3::TcpCongestionOps &gt;</text>
<text class="l" x="621" y="2074">m_address</text>
<text class="l" x="1150" y="2122">m_renoSack<tspan x="1150" dy="14.5">m_sackEnabled</tspan></text>
<text class="l" x="1150" y="2259">&lt; ns3::Node &gt;</text>
<text class="l" x="1150" y="2339">&lt; ns3::NetDevice &gt;</text>
<text class="l" x="1152" y="2382">m_ptr</text>
<text class="l" x="1151" y="2424">&lt; ns3::TcpRateOps &gt;</text>
<text class="l" x="623" y="2647">m_initialized</text>
</g>
<g id="n_dr" class="nd"><rect x="803" y="27" width="162" height="55"/><text x="884" y="44">ns3::TracedCallback<tspan x="884" dy="15">&lt; ns3::DataRate, ns3</tspan><tspan x="884" dy="15">::DataRate &gt;</tspan></text></g>
<g id="n_cs" class="nd"><rect x="751" y="107" width="265" height="55"/><text x="883" y="124">ns3::TracedCallback<tspan x="883" dy="15">&lt; TcpSocketState::TcpCongState</tspan><tspan x="883" dy="15">_t, TcpSocketState::TcpCongState_t &gt;</tspan></text></g>
<g id="n_ecn" class="nd"><rect x="767" y="187" width="233" height="55"/><text x="883" y="204">ns3::TracedCallback<tspan x="883" dy="15">&lt; TcpSocketState::EcnState</tspan><tspan x="883" dy="15">_t, TcpSocketState::EcnState_t &gt;</tspan></text></g>
<g id="n_pkt" class="nd"><rect x="767" y="267" width="234" height="84"/><text x="884" y="284">ns3::TracedCallback<tspan x="884" dy="15">&lt; ns3::Ptr&lt; const ns3</tspan><tspan x="884" dy="15">::Packet &gt;, const ns3</tspan><tspan x="884" dy="15">::TcpHeader &amp;, ns3::Ptr</tspan><tspan x="884" dy="15">&lt; const ns3::TcpSocketBase &gt; &gt;</tspan></text></g>
<g id="n_list" class="nd r"><rect x="5" y="385" width="142" height="40"/><text x="76" y="402">std::list&lt; Callback<tspan x="76" dy="15">&lt; void, Ts... &gt; &gt;</tspan></text></g>
<g id="n_ts" class="nd"><rect x="318" y="385" width="151" height="40"/><text x="393" y="402">ns3::TracedCallback<tspan x="393" dy="15">&lt; Ts &gt;</tspan></text></g>
<g id="n_tt" class="nd"><rect x="790" y="400" width="189" height="40"/><text x="884" y="417">ns3::TracedCallback<tspan x="884" dy="15">&lt; ns3::Time, ns3::Time &gt;</tspan></text></g>
<g id="n_tu" class="nd"><rect x="800" y="497" width="167" height="40"/><text x="883" y="514">ns3::TracedCallback<tspan x="883" dy="15">&lt; uint32_t, uint32_t &gt;</tspan></text></g>
<g id="n_tsq" class="nd"><rect x="791" y="595" width="186" height="55"/><text x="884" y="612">ns3::TracedCallback<tspan x="884" dy="15">&lt; ns3::SequenceNumber,</tspan><tspan x="884" dy="15">ns3::SequenceNumber &gt;</tspan></text></g>
<g id="n_i64" class="nd"><rect x="360" y="781" width="66" height="25"/><text x="393" y="798">int64_t</text></g>
<g id="n_set" class="nd r"><rect x="339" y="831" width="109" height="25"/><text x="393" y="848">std::set&lt; K &gt;</text></g>
<g id="n_time" class="nd"><rect x="840" y="831" width="87" height="25"/><text x="883" y="848">ns3::Time</text></g>
<g id="n_u64" class="nd"><rect x="1374" y="818" width="75" height="25"/><text x="1411" y="835">uint64_t</text></g>
<g id="n_eid" class="nd"><rect x="1852" y="881" width="103" height="25"/><text x="1903" y="898">ns3::EventId</text></g>
<g id="n_timer" class="nd r"><rect x="2270" y="781" width="91" height="25"/><text x="2315" y="798">ns3::Timer</text></g>
<g id="n_sq32" class="nd"><rect x="800" y="972" width="167" height="40"/><text x="883" y="989">ns3::SequenceNumber<tspan x="883" dy="15">&lt; uint32_t, int32_t &gt;</tspan></text></g>
<g id="n_tvt" class="nd"><rect x="1327" y="921" width="169" height="40"/><text x="1411" y="938">ns3::TracedValue&lt; ns3<tspan x="1411" dy="15">::Time &gt;</tspan></text></g>
<g id="n_rh" class="nd"><rect x="1352" y="987" width="119" height="25"/><text x="1411" y="1004">ns3::RttHistory</text></g>
<g id="n_pei" class="nd r"><rect x="1312" y="1038" width="199" height="25"/><text x="1411" y="1055">ns3::Ptr&lt; ns3::EventImpl &gt;</text></g>
<g id="n_dqt" class="nd r"><rect x="1348" y="1089" width="128" height="25"/><text x="1412" y="1106">std::deque&lt; T &gt;</text></g>
<g id="n_dqr" class="nd"><rect x="1795" y="1006" width="217" height="25"/><text x="1903" y="1023">std::deque&lt; ns3::RttHistory &gt;</text></g>
<g id="n_sqn" class="nd r"><rect x="296" y="1205" width="194" height="55"/><text x="393" y="1222">ns3::SequenceNumber<tspan x="393" dy="15">&lt; NUMERIC_TYPE, SIGNED</tspan><tspan x="393" dy="15">_TYPE &gt;</tspan></text></g>
<g id="n_tco" class="nd r"><rect x="798" y="1214" width="172" height="25"/><text x="884" y="1231">ns3::TcpCongestionOps</text></g>
<g id="n_rtte" class="nd r"><rect x="1345" y="1193" width="134" height="25"/><text x="1412" y="1210">ns3::RttEstimator</text></g>
<g id="n_tcst" class="nd"><rect x="779" y="1265" width="209" height="40"/><text x="883" y="1282">ns3::TracedCallback<tspan x="883" dy="15">&lt; TcpStates_t, TcpStates_t &gt;</tspan></text></g>
<g id="n_ptco" class="nd"><rect x="1306" y="1308" width="212" height="40"/><text x="1412" y="1325">ns3::Ptr&lt; ns3::TcpCongestion<tspan x="1412" dy="15">Ops &gt;</tspan></text></g>
<g id="n_tst" class="nd"><rect x="836" y="1394" width="96" height="25"/><text x="884" y="1411">TcpStates_t</text></g>
<g id="n_tvst" class="nd"><rect x="1294" y="1373" width="235" height="25"/><text x="1411" y="1390">ns3::TracedValue&lt; TcpStates_t &gt;</text></g>
<g id="n_tvT" class="nd r"><rect x="798" y="1444" width="171" height="25"/><text x="883" y="1461">ns3::TracedValue&lt; T &gt;</text></g>
<g id="n_tvu" class="nd"><rect x="1304" y="1438" width="215" height="25"/><text x="1411" y="1455">ns3::TracedValue&lt; uint32_t &gt;</text></g>
<g id="n_u32" class="nd"><rect x="356" y="1495" width="74" height="25"/><text x="393" y="1512">uint32_t</text></g>
<g id="n_prtt" class="nd"><rect x="1796" y="1482" width="194" height="25"/><text x="1893" y="1499">ns3::Ptr&lt; ns3::RttEstimator &gt;</text></g>
<g id="n_tsb" class="nd"><rect x="2578" y="1480" width="155" height="25"/><text x="2655" y="1497">ns3::TcpSocketBase</text></g>
<g id="n_tvsq" class="nd"><rect x="1327" y="1621" width="169" height="40"/><text x="1411" y="1638">ns3::TracedValue&lt; ns3<tspan x="1411" dy="15">::SequenceNumber &gt;</tspan></text></g>
<g id="n_tss" class="nd r"><rect x="1828" y="1635" width="152" height="25"/><text x="1904" y="1652">ns3::TcpSocketState</text></g>
<g id="n_ptss" class="nd"><rect x="2225" y="1606" width="182" height="40"/><text x="2316" y="1623">ns3::Ptr&lt; ns3::TcpSocket<tspan x="2316" dy="15">State &gt;</tspan></text></g>
<g id="n_dbl" class="nd"><rect x="2283" y="1673" width="66" height="25"/><text x="2316" y="1690">double</text></g>
<g id="n_txb" class="nd r"><rect x="1839" y="1904" width="129" height="25"/><text x="1903" y="1921">ns3::TcpTxBuffer</text></g>
<g id="n_char" class="nd"><rect x="1387" y="2001" width="50" height="25"/><text x="1412" y="2018">char</text></g>
<g id="n_ptxb" class="nd"><rect x="2212" y="2152" width="206" height="25"/><text x="2315" y="2169">ns3::Ptr&lt; ns3::TcpTxBuffer &gt;</text></g>
<g id="n_pT" class="nd r"><rect x="829" y="2235" width="110" height="25"/><text x="884" y="2252">ns3::Ptr&lt; T &gt;</text></g>
<g id="n_pnode" class="nd"><rect x="1329" y="2269" width="166" height="25"/><text x="1412" y="2286">ns3::Ptr&lt; ns3::Node &gt;</text></g>
<g id="n_tcps" class="nd"><rect x="2257" y="2254" width="115" height="25"/><text x="2314" y="2271">ns3::TcpSocket</text></g>
<g id="n_l4" class="nd r"><rect x="1833" y="2326" width="142" height="25"/><text x="1904" y="2343">ns3::TcpL4Protocol</text></g>
<g id="n_pl4" class="nd"><rect x="2206" y="2326" width="222" height="25"/><text x="2317" y="2343">ns3::Ptr&lt; ns3::TcpL4Protocol &gt;</text></g>
<g id="n_node" class="nd r"><rect x="840" y="2332" width="87" height="25"/><text x="883" y="2349">ns3::Node</text></g>
<g id="n_bool" class="nd"><rect x="368" y="2372" width="50" height="25"/><text x="393" y="2389">bool</text></g>
<g id="n_sock" class="nd r"><rect x="1855" y="2460" width="97" height="25"/><text x="1903" y="2477">ns3::Socket</text></g>
<g id="n_pnd" class="nd r"><rect x="1311" y="2606" width="201" height="25"/><text x="1411" y="2623">ns3::Ptr&lt; ns3::NetDevice &gt;</text></g>
<g id="n_ip4" class="nd"><rect x="817" y="2656" width="133" height="25"/><text x="883" y="2673">ns3::Ipv4Address</text></g>
<g id="n_u8" class="nd"><rect x="850" y="2712" width="67" height="25"/><text x="883" y="2729">uint8_t</text></g>
<g id="n_ip6" class="nd"><rect x="1345" y="2744" width="133" height="25"/><text x="1411" y="2761">ns3::Ipv6Address</text></g>
<g id="n_ep4" class="nd"><rect x="1830" y="2754" width="143" height="25"/><text x="1901" y="2771">ns3::Ipv4EndPoint</text></g>
<g id="n_cb4a" class="nd"><rect x="1304" y="2846" width="216" height="55"/><text x="1412" y="2863">ns3::Callback&lt; void,<tspan x="1412" dy="15">ns3::Ipv4Address, uint8</tspan><tspan x="1412" dy="15">_t, uint8_t, uint8_t, uint32_t &gt;</tspan></text></g>
<g id="n_u16" class="nd"><rect x="1375" y="2927" width="73" height="25"/><text x="1411" y="2944">uint16_t</text></g>
<g id="n_prate" class="nd r"><rect x="1560" y="3026" width="221" height="25"/><text x="1670" y="3043">ns3::Ptr&lt; ns3::TcpRateOps &gt;</text></g>
<g id="n_cb4h" class="nd"><rect x="1284" y="3142" width="254" height="70"/><text x="1411" y="3159">ns3::Callback&lt; void,<tspan x="1411" dy="15">ns3::Ptr&lt; ns3::Packet</tspan><tspan x="1411" dy="15">&gt;, ns3::Ipv4Header, uint16</tspan><tspan x="1411" dy="15">_t, ns3::Ptr&lt; ns3::Ipv4Interface &gt; &gt;</tspan></text></g>
<g id="n_ep6" class="nd"><rect x="1830" y="3105" width="143" height="25"/><text x="1901" y="3122">ns3::Ipv6EndPoint</text></g>
<g id="n_cbv" class="nd"><rect x="1329" y="3243" width="166" height="25"/><text x="1412" y="3260">ns3::Callback&lt; void &gt;</text></g>
<g id="n_cb6h" class="nd"><rect x="1284" y="3311" width="254" height="70"/><text x="1411" y="3328">ns3::Callback&lt; void,<tspan x="1411" dy="15">ns3::Ptr&lt; ns3::Packet</tspan><tspan x="1411" dy="15">&gt;, ns3::Ipv6Header, uint16</tspan><tspan x="1411" dy="15">_t, ns3::Ptr&lt; ns3::Ipv6Interface &gt; &gt;</tspan></text></g>
<g id="n_cbb" class="nd r"><rect x="322" y="3444" width="142" height="25"/><text x="393" y="3461">ns3::CallbackBase</text></g>
<g id="n_cb6a" class="nd"><rect x="1304" y="3407" width="216" height="55"/><text x="1412" y="3424">ns3::Callback&lt; void,<tspan x="1412" dy="15">ns3::Ipv6Address, uint8</tspan><tspan x="1412" dy="15">_t, uint8_t, uint8_t, uint32_t &gt;</tspan></text></g>
<g id="n_cbr" class="nd"><rect x="786" y="3476" width="195" height="25"/><text x="883" y="3493">ns3::Callback&lt; R, UArgs &gt;</text></g>
<g id="n_prec" class="nd"><rect x="1312" y="3488" width="199" height="40"/><text x="1411" y="3505">ns3::Ptr&lt; ns3::TcpRecovery<tspan x="1411" dy="15">Ops &gt;</tspan></text></g>
<g id="n_rec" class="nd r"><rect x="804" y="3531" width="159" height="25"/><text x="883" y="3548">ns3::TcpRecoveryOps</text></g>
<g id="n_cbsq" class="nd"><rect x="1304" y="3637" width="215" height="70"/><text x="1411" y="3654">ns3::Callback&lt; void,<tspan x="1411" dy="15">Ptr&lt; const TcpSocketBase</tspan><tspan x="1411" dy="15">&gt;, const SequenceNumber32</tspan><tspan x="1411" dy="15">&amp;, uint32_t, bool &gt;</tspan></text></g>
<g id="n_cbss" class="nd"><rect x="1290" y="3733" width="244" height="55"/><text x="1412" y="3750">ns3::Callback&lt; void,<tspan x="1412" dy="15">Ptr&lt; const TcpSocketState</tspan><tspan x="1412" dy="15">&gt;, Ptr&lt; const TcpSocketBase &gt; &gt;</tspan></text></g>
<g id="n_cbmb" class="nd"><rect x="1305" y="3813" width="213" height="55"/><text x="1411" y="3830">ns3::Callback&lt; void,<tspan x="1411" dy="15">ns3::Ptr&lt; ns3::TcpSocketMsg</tspan><tspan x="1411" dy="15">Base &gt; &gt;</tspan></text></g>
<g id="n_cbpk" class="nd"><rect x="1299" y="3910" width="226" height="70"/><text x="1412" y="3927">ns3::Callback&lt; void,<tspan x="1412" dy="15">Ptr&lt; const Packet &gt;</tspan><tspan x="1412" dy="15">, const TcpHeader &amp;,</tspan><tspan x="1412" dy="15">Ptr&lt; const TcpSocketBase &gt; &gt;</tspan></text></g>
<g id="n_msg" class="nd g"><rect x="2774" y="3738" width="176" height="25"/><text x="2862" y="3755">ns3::TcpSocketMsgBase</text></g>
</svg>
